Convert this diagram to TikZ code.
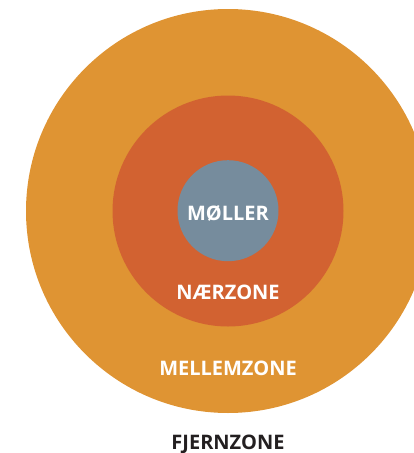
\documentclass[tikz,border=0pt]{standalone}
\usepackage{fontspec}
\setmainfont{Open Sans}[BoldFont={* Bold}]
\definecolor{outerc}{HTML}{DF9433}
\definecolor{midc}{HTML}{D26231}
\definecolor{innerc}{HTML}{768C9D}
\definecolor{textc}{HTML}{231F20}
\begin{document}
\begin{tikzpicture}[x=1pt,y=-1pt,
  zone/.style={circle,draw=none,inner sep=0pt},
  lbl/.style={font=\fontsize{20}{24}\selectfont\bfseries,text=white,inner sep=0pt,anchor=base}]
\useasboundingbox (0,0) rectangle (414,453);
\begin{scope}
\clip (0,0) rectangle (414,453);
\node[zone,fill=outerc,minimum size=404pt] (outer) at (228,211) {};
\node[zone,fill=midc,minimum size=231pt] (mid) at (228,211) {};
\node[zone,fill=innerc,minimum size=101pt] (inner) at (228,210.7) {};
\end{scope}
\node[lbl] (moller) at (228,220) {MØLLER};
\node[lbl] (naer) at (228,299.5) {NÆRZONE};
\node[lbl] (mellem) at (228,375) {MELLEMZONE};
\node[lbl,text=textc] (fjern) at (228,449) {FJERNZONE};
\end{tikzpicture}
\end{document}
